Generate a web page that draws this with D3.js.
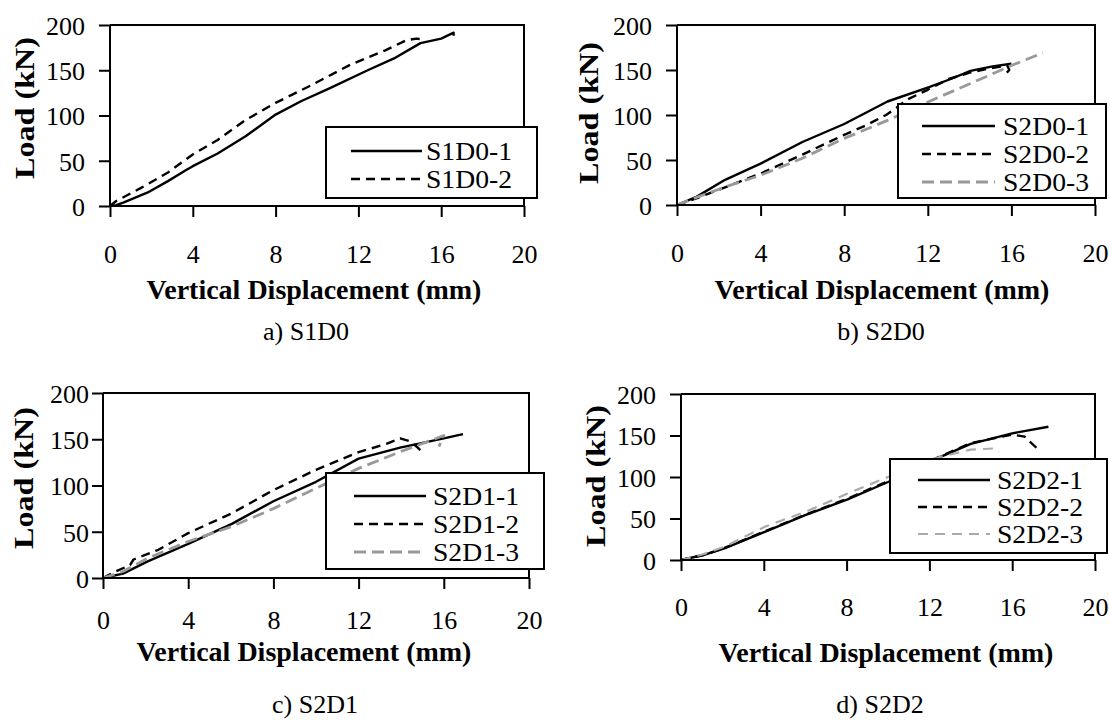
<!DOCTYPE html>
<html>
<head>
<meta charset="utf-8">
<script src="https://cdn.jsdelivr.net/npm/d3@7"></script>
<style>
  body { margin: 0; background: #fff; }
  svg { display: block; }
  text { font-family: "Liberation Serif", "Times New Roman", serif; fill: #000; }
</style>
</head>
<body>
<div id="chart"></div>
<script>
// tick values shared by all four panels
var xTicks = [0, 4, 8, 12, 16, 20];
var yTicks = [0, 50, 100, 150, 200];

// a) S1D0  [displacement mm, load kN]
var s1d0_1 = [[0,0],[0.3,1],[0.64,3.7],[1.8,14.7],[2.8,27.5],[3.7,40],[4,44],[5.2,58],[6.55,77],[8,101],[9.25,116],[10.6,130],[12.45,150],[13.8,164],[15,180],[16,185],[16.6,191.5],[16.6,188]];
var s1d0_2 = [[0,0],[0.3,5.5],[1.5,20],[2.8,37],[4,57],[5.2,73],[6.55,95],[8,114],[9.6,132],[11.6,156],[13.3,172],[14.3,183],[14.8,185],[15.2,184]];

// b) S2D0
var s2d0_1 = [[0,0],[0.93,9],[2.3,28],[4,46],[6,70],[8,90],[10.07,115],[12.06,131],[13.1,140],[14.04,149],[15.1,154],[16,157]];
var s2d0_2 = [[0,0],[1,8],[2,17],[4,35],[6,56],[8,78],[9,88],[10,100],[10.5,108],[11,117],[12,128],[13,140],[14,147],[15,152],[15.8,155],[15.9,150],[15.65,144]];
var s2d0_3 = [[0,0],[1,9],[2.3,20],[4,33],[6,52],[8,74],[10.07,94],[12.06,115],[14.04,135],[16,155],[17.5,169]];

// c) S2D1
var s2d1_1 = [[0,0],[0.94,4.7],[2.1,18],[4,37],[6.05,58.5],[8,83],[10,104],[12,129],[13.95,141],[16,151],[16.9,155.5]];
var s2d1_2 = [[0,0],[0.44,5.4],[1.27,14],[1.43,20],[2.6,30.5],[4,48.5],[6.05,70],[8,95],[10,117],[12,136],[13.3,145],[13.95,151],[14.4,148],[14.7,142.5],[15,136]];
var s2d1_3 = [[0,0],[0.94,7],[2.1,21.5],[4,39.5],[6.05,55.7],[8,75],[10,97],[12,118.5],[13.95,136.4],[16,154],[15.77,142]];

// d) S2D2
var s2d2_1 = [[0,0],[1.08,6],[2.1,14],[4.05,34],[6,54],[8.05,73],[10,94],[12,118.5],[14,140],[16,152.6],[17.75,160.6]];
var s2d2_2 = [[0,0],[1.08,6],[2.1,14.5],[4.05,34.5],[6,54.5],[8.05,74],[10,95],[12,119],[14,141],[16,151],[16.6,148.6],[17.2,134.5]];
var s2d2_3 = [[0,0],[1.08,7],[2.1,16],[4.05,40],[6,58],[8.05,80],[10,100],[12,121],[14,133],[15.2,134.5],[15.35,130.5]];

var solid = {color: "#000", dash: null, width: 2.4};
var dashBlack = {color: "#000", dash: "9,6", width: 2.4};
var dashGray = {color: "#999", dash: "12,6", width: 2.8};
var dashLight = {color: "#aaa", dash: "10,7", width: 2.2};

var panels = [
  {name: "a) S1D0", left: 110, right: 524, top: 25, bottom: 206, tickDy: 58, yGap: 25,
   titleX: 314, titleY: 299, yTitleX: 25, yTitleY: 108, capX: 306, capY: 340,
   legend: {x: 326, y: 127, w: 211, h: 71, rows: [151, 179], x1: 351, x2: 422, tx: 426},
   series: [["S1D0-1", s1d0_1, solid], ["S1D0-2", s1d0_2, dashBlack]]},
  {name: "b) S2D0", left: 677, right: 1095, top: 25, bottom: 205, tickDy: 58, yGap: 25,
   titleX: 882, titleY: 299, yTitleX: 589, yTitleY: 113, capX: 881, capY: 340,
   legend: {x: 898, y: 104, w: 208, h: 94, rows: [126, 154, 182], x1: 922, x2: 995, tx: 1003},
   series: [["S2D0-1", s2d0_1, solid], ["S2D0-2", s2d0_2, dashBlack], ["S2D0-3", s2d0_3, dashGray]]},
  {name: "c) S2D1", left: 103, right: 529, top: 393, bottom: 578, tickDy: 52, yGap: 14,
   titleX: 304, titleY: 661, yTitleX: 24, yTitleY: 478, capX: 315, capY: 713,
   legend: {x: 326, y: 473, w: 218, h: 96, rows: [496, 524, 552], x1: 354, x2: 426, tx: 433},
   series: [["S2D1-1", s2d1_1, solid], ["S2D1-2", s2d1_2, dashBlack], ["S2D1-3", s2d1_3, dashGray]]},
  {name: "d) S2D2", left: 681, right: 1095, top: 394, bottom: 560, tickDy: 57, yGap: 25,
   titleX: 886, titleY: 662, yTitleX: 596, yTitleY: 476, capX: 880, capY: 713,
   legend: {x: 890, y: 459, w: 217, h: 94, rows: [480, 507, 534], x1: 918, x2: 990, tx: 997},
   series: [["S2D2-1", s2d2_1, solid], ["S2D2-2", s2d2_2, dashBlack], ["S2D2-3", s2d2_3, dashLight]]}
];

var svg = d3.select("#chart")
  .append("svg")
  .attr("width", 1109).attr("height", 722);

panels.forEach(function(p) {
  var x = d3.scaleLinear().domain([0, 20]).range([p.left, p.right]);
  var y = d3.scaleLinear().domain([0, 200]).range([p.bottom, p.top]);
  var g = svg.append("g");

  // curves
  var line = d3.line().x(function(d) { return x(d[0]); }).y(function(d) { return y(d[1]); });
  p.series.forEach(function(s) {
    g.append("path")
      .datum(s[1])
      .attr("d", line)
      .attr("fill", "none")
      .attr("stroke", s[2].color)
      .attr("stroke-width", s[2].width)
      .attr("stroke-dasharray", s[2].dash)
      .attr("stroke-linejoin", "round");
  });

  // frame: top and right borders
  g.append("path")
    .attr("d", "M" + x(0) + "," + y(200) + "H" + x(20) + "V" + y(0))
    .attr("fill", "none").attr("stroke", "#000").attr("stroke-width", 2);

  // x axis
  var xAxis = g.append("g")
    .attr("transform", "translate(0," + p.bottom + ")")
    .call(d3.axisBottom(x).tickValues(xTicks).tickSize(11).tickPadding(p.tickDy - 30));
  // y axis
  var yAxis = g.append("g")
    .attr("transform", "translate(" + p.left + ",0)")
    .call(d3.axisLeft(y).tickValues(yTicks).tickSize(11).tickPadding(p.yGap - 11));

  [xAxis, yAxis].forEach(function(a) {
    a.select(".domain").attr("stroke", "#000").attr("stroke-width", 2);
    a.selectAll(".tick line").attr("stroke", "#000").attr("stroke-width", 2);
    a.selectAll(".tick text")
      .attr("font-family", "Liberation Serif, serif")
      .attr("font-size", 26)
      .attr("fill", "#000");
  });
  xAxis.select(".domain").attr("d", "M" + x(0) + ",0H" + x(20));
  yAxis.select(".domain").attr("d", "M0," + y(0) + "V" + y(200));
  yAxis.selectAll(".tick text").attr("dy", "0.36em");

  // axis titles
  g.append("text")
    .attr("x", p.titleX).attr("y", p.titleY)
    .attr("text-anchor", "middle")
    .attr("font-size", 28).attr("font-weight", "bold")
    .text("Vertical Displacement (mm)");

  g.append("text")
    .attr("transform", "translate(" + (p.yTitleX + 9) + "," + p.yTitleY + ") rotate(-90)")
    .attr("text-anchor", "middle")
    .attr("font-size", 28).attr("font-weight", "bold")
    .attr("textLength", 142).attr("lengthAdjust", "spacingAndGlyphs")
    .text("Load (kN)");

  // caption
  g.append("text")
    .attr("x", p.capX).attr("y", p.capY)
    .attr("text-anchor", "middle")
    .attr("font-size", 26)
    .text(p.name);

  // legend
  var L = p.legend;
  g.append("rect")
    .attr("x", L.x).attr("y", L.y).attr("width", L.w).attr("height", L.h)
    .attr("fill", "#fff").attr("stroke", "#000").attr("stroke-width", 2);
  p.series.forEach(function(s, i) {
    g.append("line")
      .attr("x1", L.x1).attr("x2", L.x2)
      .attr("y1", L.rows[i]).attr("y2", L.rows[i])
      .attr("stroke", s[2].color)
      .attr("stroke-width", s[2].width)
      .attr("stroke-dasharray", s[2].dash);
    g.append("text")
      .attr("x", L.tx).attr("y", L.rows[i])
      .attr("dy", "0.34em")
      .attr("font-size", 25)
      .attr("textLength", 86).attr("lengthAdjust", "spacingAndGlyphs")
      .text(s[0]);
  });
});
</script>
</body>
</html>
